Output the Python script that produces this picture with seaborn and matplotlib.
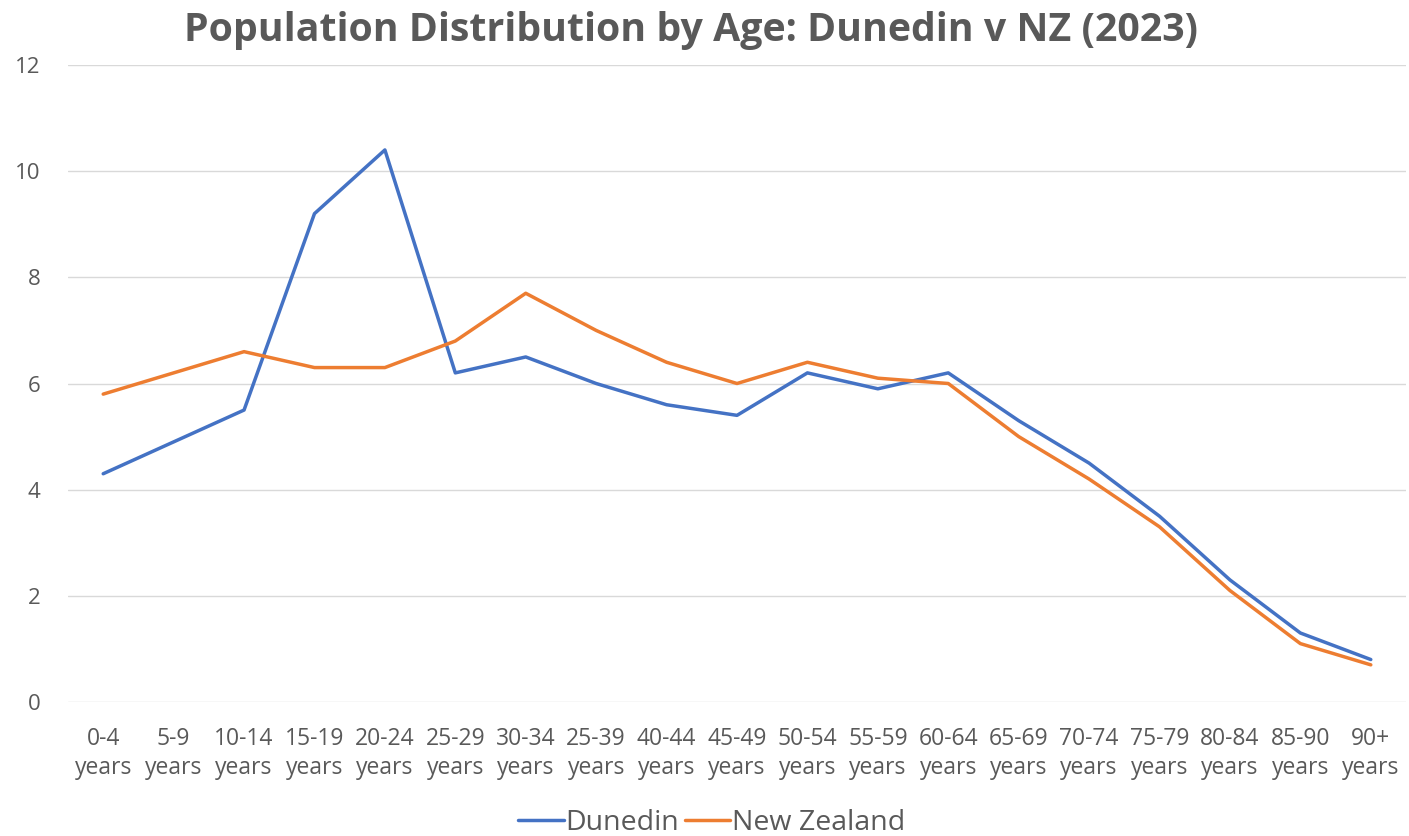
import pandas as pd
import matplotlib.pyplot as plt
import seaborn as sns

# Age bands (labels as they appear on the chart)
age_groups = ['0-4', '5-9', '10-14', '15-19', '20-24', '25-29', '30-34', '25-39',
              '40-44', '45-49', '50-54', '55-59', '60-64', '65-69', '70-74',
              '75-79', '80-84', '85-90', '90+']
dunedin = [4.3, 4.9, 5.5, 9.2, 10.4, 6.2, 6.5, 6.0, 5.6, 5.4, 6.2, 5.9, 6.2,
           5.3, 4.5, 3.5, 2.3, 1.3, 0.8]
new_zealand = [5.8, 6.2, 6.6, 6.3, 6.3, 6.8, 7.7, 7.0, 6.4, 6.0, 6.4, 6.1, 6.0,
               5.0, 4.2, 3.3, 2.1, 1.1, 0.7]
series_names = ['Dunedin', 'New Zealand']
y_ticks = [0, 2, 4, 6, 8, 10, 12]

df = pd.DataFrame({'Age': age_groups, 'Dunedin': dunedin, 'New Zealand': new_zealand})
df_long = df.melt(id_vars='Age', var_name='Area', value_name='Percent')

sns.set_theme(style="white")
plt.rcParams['font.family'] = ['Open Sans', 'DejaVu Sans']
grey = '#595959'

fig = plt.figure(figsize=(14.09, 8.36), dpi=100)
ax = fig.add_axes([68 / 1409, 1 - 702 / 836, 1338 / 1409, 637 / 836])

sns.lineplot(data=df_long, x='Age', y='Percent', hue='Area', hue_order=series_names,
             palette=['#4472C4', '#ED7D31'], sort=False, linewidth=2.5, ax=ax)

ax.set_xlim(-0.5, len(age_groups) - 0.5)
ax.set_ylim(0, 12)
ax.set_yticks(y_ticks)
ax.set_yticklabels([str(t) for t in y_ticks], color=grey, fontsize=16)
ax.set_xticks(range(len(age_groups)))
ax.set_xticklabels([f'{a}\nyears' for a in age_groups], color=grey, fontsize=16.5,
                   linespacing=1.3)
ax.tick_params(axis='x', length=0, pad=18)
ax.tick_params(axis='y', length=0, pad=20)
ax.yaxis.grid(True, color='#D9D9D9', linewidth=1)
ax.set_axisbelow(True)
for s in ax.spines.values():
    s.set_visible(False)
ax.set_xlabel('')
ax.set_ylabel('')

ax.legend(loc='center', bbox_to_anchor=(0.481, -0.19), ncol=2, frameon=False,
          fontsize=20.5, handlelength=1.6, handletextpad=0.05, columnspacing=0.2,
          labelcolor=grey)

fig.text(691 / 1409, 1 - 30 / 836, 'Population Distribution by Age: Dunedin v NZ (2023)',
         ha='center', va='center', fontsize=28.3, fontweight='bold', color=grey)

plt.savefig('out.png', dpi=100)
